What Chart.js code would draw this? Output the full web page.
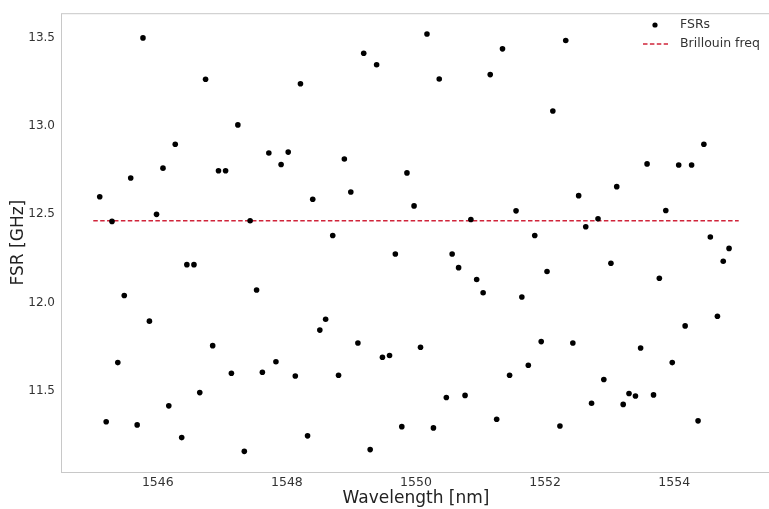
<!DOCTYPE html>
<html>
<head>
<meta charset="utf-8">
<script src="https://cdn.jsdelivr.net/npm/chart.js@4"></script>
<style>
  body { margin: 0; overflow: hidden; background: #fff; }
  #wrap { width: 775px; height: 509px; }
</style>
</head>
<body>
<div id="wrap"><canvas id="fsr"></canvas></div>
<script>
// measured wavelengths (nm) and free spectral ranges (GHz)
const wavelengths = [
    1545.10, 1545.20, 1545.29, 1545.38, 1545.48, 1545.58, 1545.68, 1545.77, 1545.87, 1545.98,
    1546.08, 1546.17, 1546.27, 1546.37, 1546.45, 1546.56, 1546.65, 1546.74, 1546.85, 1546.94,
    1547.05, 1547.14, 1547.24, 1547.34, 1547.43, 1547.53, 1547.62, 1547.72, 1547.83, 1547.91,
    1548.02, 1548.13, 1548.21, 1548.32, 1548.40, 1548.51, 1548.60, 1548.71, 1548.80, 1548.89,
    1548.99, 1549.10, 1549.19, 1549.29, 1549.39, 1549.48, 1549.59, 1549.68, 1549.78, 1549.86,
    1549.97, 1550.07, 1550.17, 1550.27, 1550.36, 1550.47, 1550.56, 1550.66, 1550.76, 1550.85,
    1550.94, 1551.04, 1551.15, 1551.25, 1551.34, 1551.45, 1551.55, 1551.64, 1551.74, 1551.84,
    1551.94, 1552.03, 1552.12, 1552.23, 1552.32, 1552.43, 1552.52, 1552.63, 1552.72, 1552.82,
    1552.91, 1553.02, 1553.11, 1553.21, 1553.30, 1553.40, 1553.48, 1553.58, 1553.68, 1553.77,
    1553.87, 1553.97, 1554.07, 1554.17, 1554.27, 1554.37, 1554.46, 1554.56, 1554.67, 1554.76,
    1554.85
];
const fsrs = [
    12.600, 11.325, 12.460, 11.660, 12.040, 12.706, 11.307, 13.500, 11.895, 12.500,
    12.762, 11.415, 12.897, 11.235, 12.215, 12.215, 11.490, 13.266, 11.756, 12.747,
    12.747, 11.600, 13.007, 11.157, 12.464, 12.071, 11.605, 12.848, 11.665, 12.783,
    12.853, 11.584, 13.240, 11.245, 12.586, 11.844, 11.906, 12.380, 11.588, 12.814,
    12.627, 11.771, 13.413, 11.167, 13.348, 11.690, 11.700, 12.275, 11.297, 12.735,
    12.548, 11.747, 13.522, 11.290, 13.267, 11.462, 12.275, 12.198, 11.474, 12.471,
    12.131, 12.056, 13.292, 11.339, 13.438, 11.588, 12.520, 12.032, 11.645, 12.380,
    11.779, 12.176, 13.086, 11.301, 13.485, 11.771, 12.606, 12.430, 11.430, 12.475,
    11.564, 12.223, 12.657, 11.423, 11.485, 11.471, 11.743, 12.786, 11.477, 12.138,
    12.522, 11.660, 12.780, 11.868, 12.780, 11.330, 12.897, 12.372, 11.923, 12.234,
    12.307
];
const brillouinFreq = 12.464;
const brillouinSpan = [1545, 1555];

const xTicks = [1546, 1548, 1550, 1552, 1554];
const yTicks = [11.5, 12.0, 12.5, 13.0, 13.5];

const fsrPoints = wavelengths.map((w, i) => ({ x: w, y: fsrs[i] }));
const brillouinLine = brillouinSpan.map(w => ({ x: w, y: brillouinFreq }));

// axes frame (all four sides, like matplotlib)
const framePlugin = {
    id: 'frame',
    beforeDatasetsDraw(chart) {
        const { ctx, chartArea: a } = chart;
        ctx.save();
        ctx.strokeStyle = '#c8c8c8';
        ctx.lineWidth = 1;
        ctx.strokeRect(a.left + 0.5, a.top + 0.5, a.right - a.left, a.bottom - a.top);
        ctx.restore();
    }
};

// legend in the upper right corner, stacked vertically
const legendPlugin = {
    id: 'cornerLegend',
    afterDraw(chart) {
        const ctx = chart.ctx;
        const ds = chart.data.datasets;
        ctx.save();
        ctx.font = '12.5px "DejaVu Sans"';
        ctx.textBaseline = 'middle';
        ctx.fillStyle = '#333';
        // FSRs
        ctx.beginPath();
        ctx.arc(655, 25, 2.6, 0, Math.PI * 2);
        ctx.fillStyle = ds[0].backgroundColor;
        ctx.fill();
        ctx.fillStyle = '#333';
        ctx.fillText(ds[0].label, 680, 25);
        // Brillouin
        ctx.beginPath();
        ctx.setLineDash(ds[1].borderDash);
        ctx.strokeStyle = ds[1].borderColor;
        ctx.lineWidth = ds[1].borderWidth;
        ctx.moveTo(643, 44);
        ctx.lineTo(668, 44);
        ctx.stroke();
        ctx.setLineDash([]);
        ctx.fillText(ds[1].label, 680, 44);
        ctx.restore();
    }
};

const ctx = document.getElementById('fsr');
const fsrChart = new Chart(ctx, {
    type: 'scatter',
    data: {
        datasets: [
            {
                label: 'FSRs',
                data: fsrPoints,
                backgroundColor: '#000',
                borderColor: '#000',
                pointRadius: 2.8,
                pointBorderWidth: 0
            },
            {
                type: 'line',
                label: 'Brillouin freq',
                data: brillouinLine,
                borderColor: '#d0243a',
                borderWidth: 1.4,
                borderDash: [4.5, 2.4],
                pointRadius: 0,
                showLine: true,
                fill: false
            }
        ]
    },
    options: {
        animation: false,
        responsive: true,
        maintainAspectRatio: false,
        layout: { padding: { top: 10, right: 2, bottom: 0, left: 0 } },
        plugins: {
            legend: { display: false },
            tooltip: { enabled: false }
        },
        scales: {
            x: {
                type: 'linear',
                min: 1544.5,
                max: 1555.5,
                grid: { display: false, drawTicks: false },
                border: { display: false },
                afterBuildTicks: s => { s.ticks = xTicks.map(v => ({ value: v })); },
                afterFit: s => { s.height = 37; },
                ticks: {
                    padding: 3,
                    color: '#333',
                    font: { family: 'DejaVu Sans', size: 12.5 },
                    callback: v => String(v)
                },
                title: {
                    display: true,
                    text: 'Wavelength [nm]',
                    color: '#222',
                    font: { family: 'DejaVu Sans', size: 17 },
                    padding: { top: 4, bottom: 0 }
                }
            },
            y: {
                min: 11.04,
                max: 13.64,
                grid: { display: false, drawTicks: false },
                border: { display: false },
                afterBuildTicks: s => { s.ticks = yTicks.map(v => ({ value: v })); },
                afterFit: s => { s.width = 61; },
                ticks: {
                    padding: 6,
                    color: '#333',
                    font: { family: 'DejaVu Sans', size: 12 },
                    callback: v => v.toFixed(1)
                },
                title: {
                    display: true,
                    text: 'FSR [GHz]',
                    color: '#222',
                    font: { family: 'DejaVu Sans', size: 17 },
                    padding: { top: 8, bottom: 0 }
                }
            }
        }
    },
    plugins: [framePlugin, legendPlugin]
});
</script>
</body>
</html>
